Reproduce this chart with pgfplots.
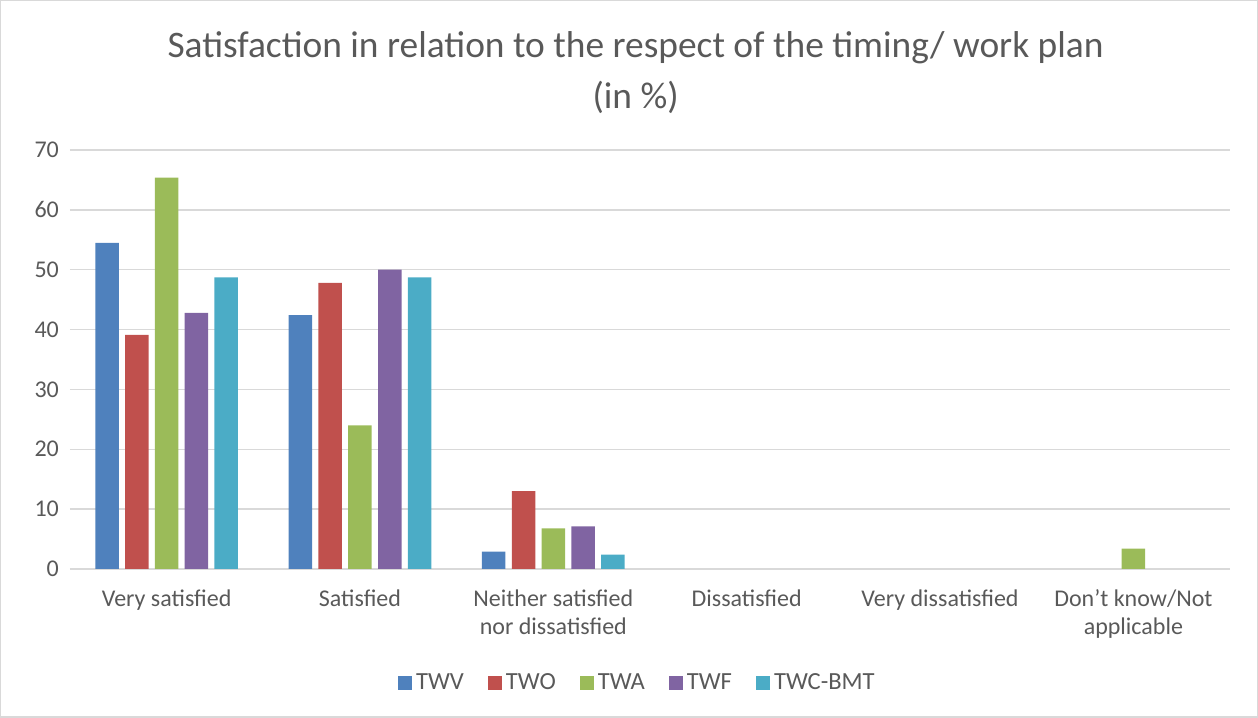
\documentclass[border=0pt]{standalone}
\usepackage{fontspec}
\setmainfont{Carlito}
\usepackage{pgfplots}
\pgfplotsset{compat=1.18}
\definecolor{cTWV}{HTML}{4F81BD}
\definecolor{cTWO}{HTML}{C0504D}
\definecolor{cTWA}{HTML}{9BBB59}
\definecolor{cTWF}{HTML}{8064A2}
\definecolor{cTWC}{HTML}{4BACC6}
\definecolor{txt}{HTML}{595959}
\definecolor{gridc}{HTML}{D9D9D9}
\begin{document}
\begin{tikzpicture}
\draw[draw=gridc, line width=0.75pt] (0.4pt,0.4pt) rectangle (628.6pt,358.6pt);
\node[text=txt, font=\fontsize{18.7}{22}\selectfont] at (317.8pt,335pt) {Satisfaction in relation to the respect of the timing/ work plan};
\node[text=txt, font=\fontsize{18.7}{22}\selectfont] at (317.8pt,310.5pt) {(in \%)};
\begin{axis}[
  at={(35pt,74.5pt)}, anchor=south west,
  scale only axis, width=580pt, height=209.5pt,
  ybar=3.15pt, bar width=11.75pt,
  xmin=-0.5, xmax=5.5, ymin=0, ymax=70,
  xtick={0,1,2,3,4,5},
  xticklabels={Very satisfied, Satisfied, {Neither satisfied\\nor dissatisfied}, Dissatisfied, Very dissatisfied, {Don’t know/Not\\applicable}},
  ytick={0,10,20,30,40,50,60,70},
  ymajorgrids, grid style={gridc, line width=0.75pt},
  axis line style={draw=none},
  major tick length=0pt,
  tick label style={font=\fontsize{12}{14}\selectfont, text=txt},
  xticklabel style={align=center, yshift=-7pt},
  yticklabel style={xshift=-2pt},
  /pgf/number format/assume math mode=true,
  legend columns=-1,
  legend style={draw=none, fill=none, at={(0.49,-0.272)}, anchor=center,
    font=\fontsize{12.3}{14}\selectfont, text=txt,
    /tikz/every even column/.append style={column sep=10pt}},
  legend image code/.code={\fill[#1, draw=none] (0pt,-3.5pt) rectangle (7pt,3.5pt);},
]
\addplot[fill=cTWV, draw=none] coordinates {(0,54.5) (1,42.4) (2,2.9)};
\addplot[fill=cTWO, draw=none] coordinates {(0,39.1) (1,47.8) (2,13.0)};
\addplot[fill=cTWA, draw=none] coordinates {(0,65.4) (1,24.0) (2,6.8) (5,3.4)};
\addplot[fill=cTWF, draw=none] coordinates {(0,42.8) (1,50.0) (2,7.1)};
\addplot[fill=cTWC, draw=none] coordinates {(0,48.7) (1,48.7) (2,2.4)};
\legend{TWV, TWO, TWA, TWF, TWC-BMT}
\end{axis}
\end{tikzpicture}
\end{document}
